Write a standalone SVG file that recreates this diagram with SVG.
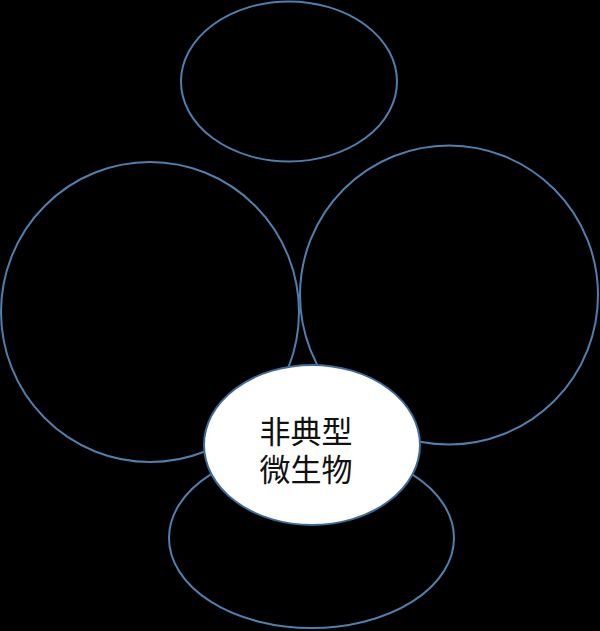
<svg xmlns="http://www.w3.org/2000/svg" width="600" height="631" viewBox="0 0 600 631">
<style>
.ring{fill:none;stroke:#4f7fae;stroke-width:2}
.core{fill:#ffffff;stroke:#3d6a98;stroke-width:2}
.lbl{font-family:"Noto Sans CJK SC","Noto Sans CJK TC",sans-serif;font-size:31px;fill:#111111;text-anchor:middle}
</style>
<rect x="0" y="0" width="600" height="631" fill="#000000"/>
<g id="node-top"><ellipse class="ring" cx="289" cy="81.5" rx="108" ry="80"/></g>
<g id="node-left"><ellipse class="ring" cx="150" cy="312" rx="149" ry="150"/></g>
<g id="node-right"><ellipse class="ring" cx="449" cy="295" rx="149" ry="149.5"/></g>
<g id="node-bottom"><ellipse class="ring" cx="311.5" cy="538" rx="142.5" ry="90"/></g>
<g id="connectors"></g>
<g id="node-center">
<ellipse class="core" cx="312" cy="445" rx="108" ry="80"/>
<text class="lbl" x="306" y="443"><tspan x="306" y="443">非典型</tspan><tspan x="306" y="481">微生物</tspan></text>
</g>
</svg>
